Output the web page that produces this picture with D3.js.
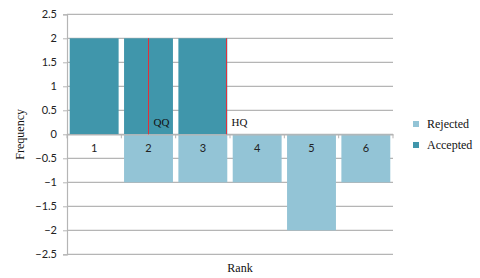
<!DOCTYPE html>
<html>
<head>
<meta charset="utf-8">
<script src="https://cdn.jsdelivr.net/npm/d3@7"></script>
<style>
  body { margin: 0; background: #fff; }
  svg { display: block; }
</style>
</head>
<body>
<svg id="chart" width="480" height="278"></svg>
<script>
const ranks = ['1', '2', '3', '4', '5', '6'];
const accepted = [2, 2, 2, 0, 0, 0];
const rejected = [0, -1, -1, -1, -2, -1];
const yTicks = [2.5, 2, 1.5, 1, 0.5, 0, -0.5, -1, -1.5, -2, -2.5];
// marker lines: rank and offset inside the band (0 = left, 1 = right)
const markers = [
  { label: 'QQ', rank: '2', offset: 0.48, value: 2 },
  { label: 'HQ', rank: '3', offset: 0.98, value: 2 }
];

const svg = d3.select('#chart');
const margin = { left: 67, right: 87, top: 14.3, bottom: 23.7 };
const width = 480 - margin.left - margin.right;
const height = 278 - margin.top - margin.bottom;

const g = svg.append('g').attr('transform', `translate(${margin.left},${margin.top})`);

const x = d3.scaleBand().domain(ranks).range([0, width]).paddingInner(0.1).paddingOuter(0.05);
const y = d3.scaleLinear().domain([-2.5, 2.5]).range([height, 0]);

const accColor = '#4096ab';
const rejColor = '#93c4d6';
const gridColor = '#b5b5b5';
const fontSans = 'Lato, "Open Sans", sans-serif';
const fontSerif = '"Liberation Serif", "DejaVu Serif", serif';

// gridlines
g.selectAll('.grid')
  .data(yTicks)
  .enter()
  .append('line')
  .attr('x1', 0)
  .attr('x2', width)
  .attr('y1', (d) => y(d))
  .attr('y2', (d) => y(d))
  .attr('stroke', gridColor)
  .attr('stroke-width', 1.2);

// bars
g.selectAll('.acc')
  .data(accepted)
  .enter()
  .append('rect')
  .attr('x', (d, i) => x(ranks[i]))
  .attr('width', x.bandwidth())
  .attr('y', (d) => y(Math.max(0, d)))
  .attr('height', (d) => Math.abs(y(d) - y(0)))
  .attr('fill', accColor);

g.selectAll('.rej')
  .data(rejected)
  .enter()
  .append('rect')
  .attr('x', (d, i) => x(ranks[i]))
  .attr('width', x.bandwidth())
  .attr('y', y(0))
  .attr('height', (d) => Math.abs(y(d) - y(0)))
  .attr('fill', rejColor);

// category axis at zero
const xAxis = g.append('g')
  .attr('transform', `translate(0,${y(0)})`)
  .call(d3.axisBottom(x).tickSize(0).tickPadding(10));
xAxis.select('.domain').attr('stroke', gridColor).attr('stroke-width', 1.2);
xAxis.selectAll('text')
  .attr('font-family', fontSans)
  .attr('font-size', 11)
  .attr('fill', '#222');

// category separators
g.selectAll('.sep')
  .data(d3.range(ranks.length + 1))
  .enter()
  .append('line')
  .attr('x1', (i) => (width / ranks.length) * i)
  .attr('x2', (i) => (width / ranks.length) * i)
  .attr('y1', y(0))
  .attr('y2', y(0) + 4)
  .attr('stroke', gridColor)
  .attr('stroke-width', 1);

// y axis
const yAxis = g.append('g')
  .call(d3.axisLeft(y).tickValues(yTicks).tickSize(4).tickPadding(6).tickFormat(d3.format('')));
yAxis.select('.domain').attr('stroke', gridColor).attr('stroke-width', 1.2);
yAxis.selectAll('line').attr('stroke', gridColor);
yAxis.selectAll('text')
  .attr('font-family', fontSans)
  .attr('font-size', 11)
  .attr('fill', '#222');

// marker lines
markers.forEach((m) => {
  const mx = Math.round(margin.left + x(m.rank) + x.bandwidth() * m.offset) + 0.5 - margin.left;
  g.append('line')
    .attr('x1', mx)
    .attr('x2', mx)
    .attr('y1', y(m.value))
    .attr('y2', y(0))
    .attr('stroke', '#e0303c')
    .attr('stroke-width', 1);
  g.append('text')
    .attr('x', mx + 5)
    .attr('y', y(0) - 8)
    .attr('font-family', fontSerif)
    .attr('font-size', 11)
    .attr('fill', '#111')
    .text(m.label);
});

// axis titles
svg.append('text')
  .attr('transform', `translate(24,${margin.top + y(0)}) rotate(-90)`)
  .attr('text-anchor', 'middle')
  .attr('font-family', fontSerif)
  .attr('font-size', 12)
  .attr('fill', '#111')
  .text('Frequency');

svg.append('text')
  .attr('x', 240)
  .attr('y', 272)
  .attr('text-anchor', 'middle')
  .attr('font-family', fontSerif)
  .attr('font-size', 12)
  .attr('fill', '#111')
  .text('Rank');

// legend
const legend = [
  { name: 'Rejected', color: rejColor },
  { name: 'Accepted', color: accColor }
];
const lg = svg.append('g').attr('transform', 'translate(413,124)');
lg.selectAll('rect')
  .data(legend)
  .enter()
  .append('rect')
  .attr('x', 0)
  .attr('y', (d, i) => i * 21 - 3)
  .attr('width', 6)
  .attr('height', 6)
  .attr('fill', (d) => d.color);
lg.selectAll('text')
  .data(legend)
  .enter()
  .append('text')
  .attr('x', 14)
  .attr('y', (d, i) => i * 21 + 4)
  .attr('font-family', fontSerif)
  .attr('font-size', 12)
  .attr('fill', '#111')
  .text((d) => d.name);
</script>
</body>
</html>
